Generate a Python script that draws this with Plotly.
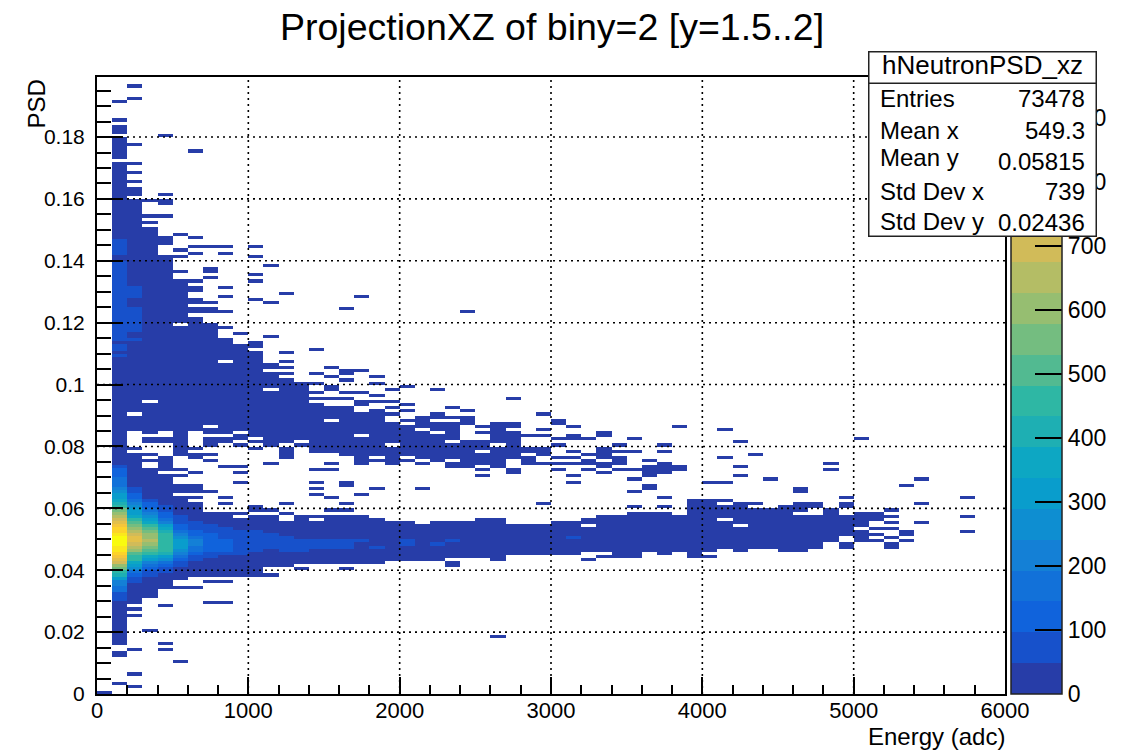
import numpy as np
import plotly.graph_objects as go

# ---- histogram binning -------------------------------------------------
x_bin_width = 100
y_bin_width = 0.001
n_x_bins = 60
n_y_bins = 200
y_axis_top = 0.1994
z_max = 964
n_contours = 20
faint_count = 20

# ---- occupied y-bin runs (first,last inclusive) for every x bin ---------
c00 = [(0,0)]
c01 = [(3,3),(12,13),(16,171),(173,179),(181,183),(185,185),(191,191)]
c02 = [(2,2),(6,6),(14,14),(25,25),(27,27),(29,77),(79,79),(85,89),(91,159),(161,163),(165,165),(168,168),(171,171),(177,177),(192,192),(196,196)]
c03 = [(20,20),(31,72),(75,75),(77,77),(81,82),(84,93),(95,150),(152,152),(154,154),(159,159)]
c04 = [(14,14),(16,16),(28,28),(34,70),(72,76),(81,82),(85,141),(145,147),(154,154),(158,159),(161,161),(180,180)]
c05 = [(10,10),(34,34),(37,63),(65,67),(70,70),(72,72),(77,118),(120,133),(136,136),(141,141),(143,143),(148,148)]
c06 = [(34,34),(38,61),(63,63),(65,67),(71,71),(76,77),(79,79),(85,121),(123,124),(126,127),(130,131),(133,133),(142,142),(144,144),(147,147),(175,175)]
c07 = [(29,29),(36,36),(38,58),(65,65),(75,75),(77,77),(80,82),(84,85),(87,119),(123,124),(126,126),(134,134),(136,137),(144,144)]
c08 = [(29,29),(36,36),(38,58),(61,61),(63,63),(73,73),(81,82),(84,106),(108,114),(118,118),(123,123),(128,128),(131,131),(142,142),(144,144)]
c09 = [(38,56),(58,58),(68,68),(71,71),(73,73),(80,80),(82,83),(85,112),(116,116)]
c10 = [(38,57),(59,60),(79,79),(81,81),(83,110),(112,113),(127,127),(133,133),(135,135),(141,141),(144,144)]
c11 = [(38,38),(41,57),(59,59),(74,74),(80,97),(99,103),(105,106),(115,115),(126,126),(138,138)]
c12 = [(41,55),(58,58),(61,61),(76,79),(81,101),(103,103),(105,105),(107,107),(110,110),(129,129)]
c13 = [(40,40),(42,57),(80,80),(82,100)]
c14 = [(42,55),(57,57),(64,64),(66,66),(68,68),(72,72),(78,93),(95,95),(97,97),(100,100),(103,103),(111,111)]
c15 = [(42,57),(59,59),(63,63),(72,72),(74,74),(78,87),(89,92),(95,95),(98,99),(102,102),(105,105)]
c16 = [(40,40),(42,57),(59,59),(61,61),(67,68),(77,92),(95,95),(97,97),(101,101),(103,104),(124,124)]
c17 = [(42,57),(64,64),(74,82),(84,90),(93,94),(97,97),(104,104),(128,128)]
c18 = [(42,56),(66,66),(75,75),(77,91),(94,94),(96,96),(100,100),(102,102)]
c19 = [(43,55),(74,79),(81,87),(90,90),(92,92),(94,94),(98,98)]
c20 = [(43,55),(75,75),(77,86),(88,88),(91,91),(93,93),(99,99)]
c21 = [(43,54),(66,66),(74,74),(76,84),(86,89)]
c22 = [(43,55),(75,83),(85,87),(89,90),(98,98)]
c23 = [(41,42),(44,55),(73,74),(76,80),(82,87),(89,89),(92,92)]
c24 = [(44,55),(73,81),(87,89),(91,91),(123,123)]
c25 = [(44,56),(70,70),(72,72),(74,77),(79,81),(84,84),(86,86)]
c26 = [(18,18),(43,56),(73,79),(81,87)]
c27 = [(45,54),(71,72),(76,84),(86,87),(95,95)]
c28 = [(45,54),(74,76),(78,79),(83,83)]
c29 = [(45,54),(61,61),(74,74),(77,79),(83,83),(85,85),(90,90)]
c30 = [(45,55),(72,72),(74,74),(76,76),(80,80),(82,82),(87,88)]
c31 = [(45,55),(68,68),(70,70),(74,74),(76,76),(78,78),(82,83),(86,86)]
c32 = [(43,43),(46,53),(55,56),(72,72),(74,75),(77,77),(82,82)]
c33 = [(44,44),(46,57),(71,71),(73,74),(76,79),(83,84)]
c34 = [(44,57),(72,72),(74,76),(78,78),(80,80)]
c35 = [(44,58),(60,60),(65,65),(69,69),(72,72),(78,78),(82,82)]
c36 = [(46,58),(66,67),(70,73),(75,75)]
c37 = [(45,58),(60,60),(63,63),(71,74),(78,78),(80,80)]
c38 = [(46,57),(72,73),(86,86)]
c39 = [(44,62)]
c40 = [(44,44),(46,62),(68,68)]
c41 = [(47,55),(57,60),(62,62),(68,68),(76,76),(85,85)]
c42 = [(46,53),(55,61),(70,70),(73,73),(81,81)]
c43 = [(47,59),(61,61),(77,77)]
c44 = [(47,59),(69,69)]
c45 = [(46,60)]
c46 = [(46,57),(59,61),(65,66)]
c47 = [(47,57),(60,61)]
c48 = [(49,59),(72,72),(74,74)]
c49 = [(47,48),(51,57),(60,61),(63,63)]
c50 = [(49,52),(54,58),(82,82)]
c51 = [(49,49),(51,51),(53,53),(56,58)]
c52 = [(47,48),(50,50),(53,53),(55,55),(57,57),(59,59)]
c53 = [(49,49),(51,52),(67,67)]
c54 = [(55,55),(61,61),(69,69)]
c55 = []
c56 = []
c57 = [(52,52),(57,57),(63,63)]
c58 = []
c59 = []
occupied = [c00,c01,c02,c03,c04,c05,c06,c07,c08,c09,c10,c11,c12,c13,c14,c15,c16,c17,c18,c19,
            c20,c21,c22,c23,c24,c25,c26,c27,c28,c29,c30,c31,c32,c33,c34,c35,c36,c37,c38,c39,
            c40,c41,c42,c43,c44,c45,c46,c47,c48,c49,c50,c51,c52,c53,c54,c55,c56,c57,c58,c59]

# ---- brighter counts: (x bin, first y bin, counts upward) ---------------
hot01 = [60,70,90,150,180,210,240,300,400,470,540,610,680,730,810,840,880,900,955,960,950,890,850,830,790,750,710,650,590,540,460,420,370,330,300,250,220,180,170,160,110,110,100,90]
hot01_upper = [60,20,60,60,20,75,70,75,80,70,75,80,75,70,75,80,75,70,75,80,75,70,75,80,75,70,75,80,75,70,75]
hot01_top = [60,60,60,60,60]
hot02 = [60,90,110,170,280,300,350,450,480,520,620,660,720,760,740,700,660,620,560,500,440,380,330,290,250,200,170,130,110,90,70]
hot02_upper = [55,20,20,60,60,60,60,60,60,60,60,20,20,20,60,60,60,60]
hot03 = [60,70,100,170,220,320,380,440,500,560,620,640,600,590,570,520,450,380,310,260,200,170,130,100,60]
hot04 = [55,80,120,190,260,330,400,450,470,480,480,470,460,420,350,300,240,180,140,110,70,55]
hot05 = [55,80,110,150,200,250,290,300,300,270,230,180,140,100,80,60,50]
hot06 = [55,70,110,150,190,200,200,170,130,110,80,70,55]
hot07 = [60,80,120,140,140,130,120,100,80,60,55]
hot08 = [55,100,110,110,100,90,70,55,50]
hot09 = [55,70,80,80,80,70,60,55]
hot10 = [60,70,75,75,75,70,60]
hot11 = [60,75,75,70,60]
hot12 = [55,60,65,65,60]
hot13 = [55,60,60,55]
hot14 = [55,60,55]
hot15 = [55,60,55]
hot16 = [60,60,55]
hot17 = [55]
hot18 = [55]
hot20 = [60,60]
hot22 = [55]
hot23 = [55]
hot31 = [55]
hot_blocks = [(1,30,hot01),(1,109,hot01_upper),(1,142,hot01_top),(2,36,hot02),(2,114,hot02_upper),
              (3,38,hot03),(4,39,hot04),(5,41,hot05),(6,43,hot06),(7,44,hot07),(8,45,hot08),
              (9,45,hot09),(10,46,hot10),(11,47,hot11),(12,46,hot12),(13,46,hot13),(14,47,hot14),
              (15,47,hot15),(16,47,hot16),(17,49,hot17),(18,47,hot18),(20,48,hot20),(22,48,hot22),
              (23,49,hot23),(31,50,hot31)]

# ---- axis ticks and texts ----------------------------------------------
x_ticks = [0,1000,2000,3000,4000,5000,6000]
x_tick_text = ["0","1000","2000","3000","4000","5000","6000"]
y_ticks = [0,0.02,0.04,0.06,0.08,0.1,0.12,0.14,0.16,0.18]
y_tick_text = ["0","0.02","0.04","0.06","0.08","0.1","0.12","0.14","0.16","0.18"]
z_ticks = [0,100,200,300,400,500,600,700,800,900]
chart_title = "ProjectionXZ of biny=2 [y=1.5..2]"
x_title = "Energy (adc)"
y_title = "PSD"
stat_name = "hNeutronPSD_xz"
stat_labels = ["Entries","Mean x","Mean y","Std Dev x","Std Dev y"]
stat_values = ["73478","549.3","0.05815","739","0.02436"]

# ---- build the matrix --------------------------------------------------
z = np.full((n_y_bins, n_x_bins), np.nan)
for col, runs in enumerate(occupied):
    for lo, hi in runs:
        z[lo:hi+1, col] = faint_count
for col, start, vals in hot_blocks:
    for k, v in enumerate(vals):
        if not np.isnan(z[start+k, col]):
            z[start+k, col] = v

x_edges = np.arange(n_x_bins+1)*x_bin_width
y_edges = np.arange(n_y_bins+1)*y_bin_width

# ---- ROOT kBird palette, 20 contour bands ------------------------------
stops = np.array([0,.125,.25,.375,.5,.625,.75,.875,1])
red = [.2082,.0592,.0780,.0232,.1802,.5301,.8186,.9956,.9764]
green = [.1664,.3599,.5041,.6419,.7178,.7492,.7328,.7862,.9832]
blue = [.5293,.8684,.8385,.7914,.6425,.4662,.3499,.1968,.0539]
colorscale = []
for i in range(n_contours):
    t = int((i+0.99)*255/n_contours)/254
    rgb = [int(round(255*np.interp(t, stops, ch))) for ch in (red, green, blue)]
    col = f"rgb({rgb[0]},{rgb[1]},{rgb[2]})"
    colorscale += [[i/n_contours, col], [(i+1)/n_contours, col]]

# ---- page geometry (pixels) --------------------------------------------
W, H = 1134, 751
L, R, T, B = 97, 1005, 77, 694
def px(x): return (x-L)/(R-L)
def py(y): return (B-y)/(B-T)

FONT = "Liberation Sans"
fig = go.Figure(go.Heatmap(
    z=z, x=x_edges, y=y_edges, zmin=0, zmax=z_max, colorscale=colorscale,
    hoverongaps=False, zsmooth=False,
    colorbar=dict(thickness=51, thicknessmode="pixels", len=B-T, lenmode="pixels",
                  x=px(1011), xanchor="left", xpad=0, y=0, yanchor="bottom", ypad=0,
                  outlinecolor="#222", outlinewidth=1.5,
                  tickmode="array", tickvals=z_ticks, ticktext=[str(v) for v in z_ticks],
                  ticks="inside", ticklen=27, tickwidth=1.5, tickcolor="black",
                  tickfont=dict(family=FONT, size=23, color="black")),
))

axis_common = dict(showline=True, linecolor="black", linewidth=2, mirror=True, showgrid=False,
                   zeroline=False, ticks="inside", tickcolor="black", tickwidth=1.5)
fig.update_xaxes(range=[0,6000], tickmode="array", tickvals=x_ticks, ticktext=x_tick_text,
                 ticklen=17, ticklabelstandoff=-4,
                 tickfont=dict(family=FONT, size=22, color="black"),
                 minor=dict(ticks="inside", ticklen=9, dtick=200, tickcolor="black", tickwidth=1.5),
                 **axis_common)
fig.update_yaxes(range=[0,y_axis_top], tickmode="array", tickvals=y_ticks, ticktext=y_tick_text,
                 ticklen=26, ticklabelstandoff=6,
                 tickfont=dict(family=FONT, size=21, color="black"),
                 minor=dict(ticks="inside", ticklen=14, dtick=0.005, tick0=0, tickcolor="black", tickwidth=1.5),
                 **axis_common)

# dotted grid sits above the cells
shapes = []
for v in x_ticks[1:-1]:
    shapes.append(dict(type="line", xref="x", yref="paper", x0=v, x1=v, y0=0, y1=1, layer="above",
                       line=dict(color="black", width=1.6, dash="2px,4px")))
for v in y_ticks[1:]:
    shapes.append(dict(type="line", xref="paper", yref="y", x0=0, x1=1, y0=v, y1=v, layer="above",
                       line=dict(color="black", width=1.6, dash="2px,4px")))

ann = []
ann.append(dict(text=chart_title, xref="paper", yref="paper", x=px(552), y=py(27), showarrow=False,
                xanchor="center", yanchor="middle", font=dict(family=FONT, size=37.5, color="black")))
ann.append(dict(text=x_title, xref="paper", yref="paper", x=px(1007), y=py(737), showarrow=False,
                xanchor="right", yanchor="middle", font=dict(family=FONT, size=24, color="black")))
ann.append(dict(text=y_title, xref="paper", yref="paper", x=px(36), y=py(78), showarrow=False, textangle=-90,
                xanchor="center", yanchor="top", font=dict(family=FONT, size=24, color="black")))

# statistics box: drawn after the colour bar, so it hides its upper part
ann.append(dict(text=" ", xref="paper", yref="paper", x=px(868), y=py(82), showarrow=False, xanchor="left", yanchor="top",
                width=226, height=152, bgcolor="white", bordercolor="#222", borderwidth=1.5, borderpad=0,
                font=dict(family=FONT, size=20)))
ann.append(dict(text=" ", xref="paper", yref="paper", x=px(868), y=py(51), showarrow=False, xanchor="left", yanchor="top",
                width=226, height=30, bgcolor="white", bordercolor="#222", borderwidth=1.5, borderpad=0,
                font=dict(family=FONT, size=20)))
ann.append(dict(text=stat_name, xref="paper", yref="paper", x=px(982), y=py(65), showarrow=False, xanchor="center", yanchor="middle",
                font=dict(family=FONT, size=26, color="black")))
label_y = [98,130,157,191,221]
value_y = [98,130,161,191,222]
for s, ly, v, vy in zip(stat_labels, label_y, stat_values, value_y):
    ann.append(dict(text=s, xref="paper", yref="paper", x=px(878), y=py(ly), showarrow=False, xanchor="left", yanchor="middle",
                    font=dict(family=FONT, size=24, color="black")))
    ann.append(dict(text=v, xref="paper", yref="paper", x=px(1087), y=py(vy), showarrow=False, xanchor="right", yanchor="middle",
                    font=dict(family=FONT, size=24, color="black")))

fig.update_layout(width=W, height=H, autosize=False,
                  margin=dict(l=L, r=W-R, t=T, b=H-B, pad=0, autoexpand=False),
                  paper_bgcolor="white", plot_bgcolor="white", shapes=shapes, annotations=ann,
                  font=dict(family=FONT, color="black"))

fig.write_html("out.html", post_script="document.body.style.margin='0';", config={"displayModeBar": False})
